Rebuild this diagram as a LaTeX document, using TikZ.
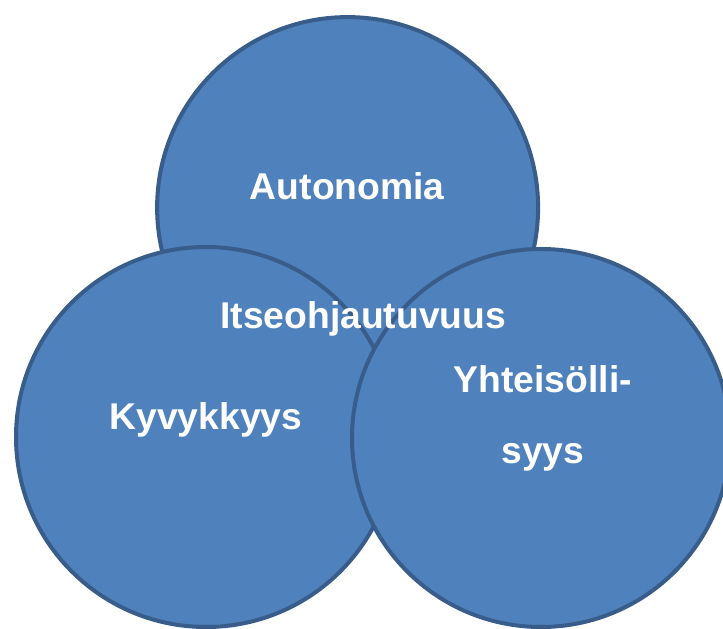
\documentclass[tikz,border=0pt]{standalone}
\usepackage{fontspec}
\setmainfont{Liberation Sans}
\usepackage{xcolor}
\usepackage{tikz}
\usetikzlibrary{positioning}
\definecolor{circfill}{RGB}{79,129,189}
\definecolor{circline}{RGB}{56,93,138}

\begin{document}
\begin{tikzpicture}[
  ympyra/.style={circle, draw=circline, fill=circfill, line width=2.85pt, inner sep=0pt},
  teksti/.style={text=white, font=\fontsize{26.5}{51}\selectfont\bfseries, align=center, inner sep=0pt}
]
\useasboundingbox (0,0) rectangle (18.075,15.7);
% ympyrat
\node[ympyra, minimum size=9.525cm] (autonomia) at (8.69,10.51) {};
\node[ympyra, minimum size=9.5cm] (kyvykkyys) at (5.15,4.775) {};
\node[ympyra, minimum size=9.45cm] (yhteisollisyys) at (13.525,4.75) {};
% tekstit
\node[teksti] (tAut) at (8.68,11.05) {Autonomia};
\node[teksti] (tKyv) at (5.15,5.2) {Kyvykkyys};
\node[teksti] (tYht) at (13.57,5.24) {Yhteisölli-\\syys};
\node[teksti] (tIts) at (9.08,7.72) {Itseohjautuvuus};
\end{tikzpicture}
\end{document}
